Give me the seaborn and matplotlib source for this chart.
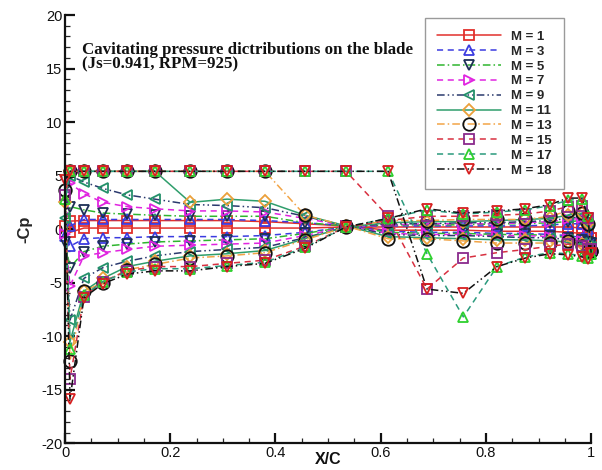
import numpy as np
import pandas as pd
import matplotlib
matplotlib.use("Agg")
import matplotlib.pyplot as plt
from matplotlib.ticker import MultipleLocator
import seaborn as sns

# chordwise stations shared by both blade sides (x/c)
x_side = [0.0095, 0.036, 0.072, 0.118, 0.171, 0.238, 0.308, 0.380, 0.456, 0.534,
          0.614, 0.688, 0.757, 0.821, 0.875, 0.922, 0.956, 0.983, 0.994]
x_le = 0.0
x_te = 1.0

series = ["M = 1", "M = 3", "M = 5", "M = 7", "M = 9",
          "M = 11", "M = 13", "M = 15", "M = 17", "M = 18"]

# -Cp at the leading and trailing edge points
cp_le = [0.3, -0.6, -1.2, -0.5, 1.0, 2.5, 3.7, 3.2, 2.8, 4.6]
cp_te = [-0.8, -1.0, -1.3, -1.5, -1.7, -1.9, -2.0, -1.9, -2.3, -2.2]

# -Cp along the suction side
cp_upper = {
    "M = 1":  [0.75, 0.8, 0.8, 0.8, 0.8, 0.8, 0.8, 0.7, 0.5, 0.3,
               -0.1, -0.1, -0.1, -0.2, -0.2, -0.2, -0.3, -0.4, -0.6],
    "M = 3":  [0.3, 0.9, 0.9, 0.9, 0.9, 0.9, 0.9, 0.8, 0.6, 0.3,
               -0.2, -0.3, -0.3, -0.4, -0.4, -0.5, -0.6, -0.8, -1.0],
    "M = 5":  [2.1, 1.8, 1.5, 1.4, 1.3, 1.2, 1.2, 1.2, 0.6, 0.3,
               -0.3, -0.4, -0.4, -0.5, -0.5, -0.6, -0.8, -1.0, -1.2],
    "M = 7":  [4.3, 3.3, 2.5, 2.1, 1.9, 1.7, 1.7, 1.6, 1.0, 0.3,
               -0.4, -0.5, -0.5, -0.6, -0.6, -0.7, -0.9, -1.1, -1.4],
    "M = 9":  [5.0, 4.4, 3.8, 3.2, 2.8, 2.3, 2.2, 2.0, 1.2, 0.3,
               -0.5, -0.6, -0.6, -0.7, -0.8, -0.8, -1.0, -1.3, -1.6],
    "M = 11": [5.4, 5.4, 5.4, 5.4, 5.4, 2.5, 2.8, 2.6, 1.3, 0.3,
               -0.7, -0.8, -0.9, -1.0, -1.0, -1.1, -1.2, -1.4, -1.8],
    "M = 13": [5.4, 5.4, 5.4, 5.4, 5.4, 5.4, 5.4, 5.4, 1.3, 0.3,
               -0.9, -0.9, -1.1, -1.3, -1.3, -1.3, -1.1, -1.6, -2.0],
    "M = 15": [5.4, 5.4, 5.4, 5.4, 5.4, 5.4, 5.4, 5.4, 5.4, 5.4,
               1.2, -5.6, -2.7, -2.2, -1.9, -1.6, -1.4, -1.6, -1.9],
    "M = 17": [5.4, 5.4, 5.4, 5.4, 5.4, 5.4, 5.4, 5.4, 5.4, 5.4,
               5.4, -2.3, -8.2, -3.5, -2.6, -2.2, -2.3, -2.5, -2.7],
    "M = 18": [5.4, 5.4, 5.4, 5.4, 5.4, 5.4, 5.4, 5.4, 5.4, 5.4,
               5.4, -5.6, -6.0, -3.5, -2.7, -2.3, -2.4, -2.6, -2.8],
}

# -Cp along the pressure side
cp_lower = {
    "M = 1":  [-0.3, 0.1, 0.1, 0.1, 0.1, 0.1, 0.1, 0.1, 0.1, 0.2,
               0.2, 0.2, 0.2, 0.2, 0.2, 0.2, 0.2, 0.1, -0.2],
    "M = 3":  [-1.6, -0.9, -0.8, -0.8, -0.7, -0.7, -0.7, -0.6, -0.3, 0.2,
               0.3, 0.3, 0.3, 0.3, 0.3, 0.4, 0.5, 0.5, 0.0],
    "M = 5":  [-3.6, -2.1, -1.6, -1.4, -1.2, -1.1, -1.0, -0.9, -0.4, 0.2,
               0.4, 0.4, 0.4, 0.5, 0.5, 0.6, 0.7, 0.8, 0.2],
    "M = 7":  [-5.3, -2.5, -2.2, -1.9, -1.6, -1.5, -1.4, -1.3, -0.6, 0.2,
               0.4, 0.5, 0.5, 0.5, 0.6, 0.7, 0.9, 1.0, 0.3],
    "M = 9":  [-8.5, -4.6, -3.6, -3.0, -2.5, -2.1, -1.9, -1.7, -0.8, 0.2,
               0.5, 0.5, 0.6, 0.6, 0.7, 0.8, 1.0, 1.2, 0.4],
    "M = 11": [-10.5, -5.8, -4.6, -3.5, -3.0, -2.5, -2.3, -2.0, -0.9, 0.2,
               0.6, 0.7, 0.7, 0.8, 0.9, 1.0, 1.3, 1.5, 0.6],
    "M = 13": [-12.3, -5.8, -5.0, -3.8, -3.3, -2.7, -2.5, -2.2, -1.0, 0.2,
               0.8, 0.8, 0.9, 0.9, 0.9, 1.2, 1.7, 1.5, 0.5],
    "M = 15": [-14.0, -6.3, -4.9, -3.9, -3.5, -3.5, -3.2, -2.9, -1.6, 0.2,
               0.8, 1.2, 1.2, 1.3, 1.4, 1.7, 2.1, 2.2, 1.0],
    "M = 17": [-11.2, -6.2, -4.9, -4.0, -3.7, -3.7, -3.4, -3.1, -1.7, 0.2,
               1.0, 1.8, 1.4, 1.6, 1.8, 2.2, 2.7, 2.8, 1.2],
    "M = 18": [-15.9, -6.4, -5.1, -4.2, -3.9, -3.9, -3.5, -3.2, -1.8, 0.2,
               1.0, 1.9, 1.5, 1.7, 1.9, 2.3, 2.9, 2.9, 1.0],
}

# line colour, marker colour, marker, marker size, dash pattern
styles = {
    "M = 1":  ("#e2302c", "#e2302c", "s", 7, "-"),
    "M = 3":  ("#3b3be0", "#3b3be0", "^", 7, (0, (4, 3))),
    "M = 5":  ("#2fb52f", "#1c2f55", "v", 7, (0, (5, 2, 1, 2))),
    "M = 7":  ("#e024e0", "#e024e0", ">", 7, (0, (4, 3))),
    "M = 9":  ("#2b3a6e", "#23906a", "<", 7, (0, (5, 2, 1, 2, 1, 2))),
    "M = 11": ("#2f9e6c", "#eba03a", "D", 6, "-"),
    "M = 13": ("#f2a446", "#111111", "o", 9, (0, (5, 2, 1, 2))),
    "M = 15": ("#d83040", "#8a2a8c", "s", 7, (0, (4, 3))),
    "M = 17": ("#2a9a7c", "#2ed02e", "^", 7, (0, (4, 3))),
    "M = 18": ("#111111", "#d62020", "v", 7, (0, (5, 2, 1, 2, 1, 2))),
}

# each curve runs around the blade section: TE -> pressure side -> LE -> suction side -> TE
rows = []
for i, name in enumerate(series):
    xs = [x_te] + x_side[::-1] + [x_le] + x_side + [x_te]
    ys = [cp_te[i]] + cp_lower[name][::-1] + [cp_le[i]] + cp_upper[name] + [cp_te[i]]
    for k, (xv, yv) in enumerate(zip(xs, ys)):
        rows.append({"series": name, "order": k, "x": xv, "cp": yv})
df = pd.DataFrame(rows)

sns.set_theme(style="white")
plt.rcParams["font.family"] = ["Liberation Sans", "DejaVu Sans"]

fig = plt.figure(figsize=(6.02, 4.70), dpi=100)
ax = fig.add_axes([0.108, 0.057, 0.874, 0.911])

handles = []
for name in series:
    lc, mc, mk, ms, ls = styles[name]
    sub = df[df["series"] == name].sort_values("order")
    sns.lineplot(data=sub, x="x", y="cp", sort=False, estimator=None, ax=ax,
                 color=lc, linestyle=ls, linewidth=1.1,
                 marker=mk, markersize=ms, markerfacecolor="none",
                 markeredgecolor=mc, markeredgewidth=1.3, legend=False)
    line = ax.lines[-1]
    line.set_label(name)
    line.set_clip_on(False)
    handles.append(line)

ax.set_xlim(0, 1)
ax.set_ylim(-20, 20)
ax.xaxis.set_minor_locator(MultipleLocator(0.05))
ax.yaxis.set_minor_locator(MultipleLocator(1))
ax.set_xticks([0, 0.2, 0.4, 0.6, 0.8, 1.0])
ax.set_xticklabels(["0", "0.2", "0.4", "0.6", "0.8", "1"])
ax.set_yticks([-20, -15, -10, -5, 0, 5, 10, 15, 20])
ax.set_yticklabels(["-20", "-15", "-10", "-5", "0", "5", "10", "15", "20"])

for side in ("top", "right"):
    ax.spines[side].set_visible(False)
for side in ("left", "bottom"):
    ax.spines[side].set_linewidth(1.6)
    ax.spines[side].set_color("#111111")

ax.tick_params(which="major", direction="in", length=7, width=1.6,
               labelsize=10.5, colors="#111111", pad=2,
               bottom=True, left=True, top=False, right=False)
ax.tick_params(which="minor", direction="in", length=3.5, width=0.9,
               bottom=True, left=True, top=False, right=False)
ax.grid(False)

ax.set_xlabel("")
fig.text(0.5 * (0.108 + 0.982), 1 - 460 / 470, "X/C", fontsize=11.5, fontweight="bold",
         ha="center", va="center", color="#111111")
ax.set_ylabel("-Cp", fontsize=12, fontweight="bold", labelpad=6)

ax.text(0.032, 17.5, "Cavitating pressure dictributions on the blade\n(Js=0.941, RPM=925)",
        family=["Liberation Serif", "DejaVu Serif"], fontweight="bold", fontsize=12.2,
        va="top", ha="left", linespacing=0.88, color="#111111")

leg = ax.legend(handles=handles, loc="upper left", bbox_to_anchor=(0.684, 0.993),
                borderaxespad=0, numpoints=1, handlelength=4.8, handletextpad=0.75,
                labelspacing=0.2, borderpad=0.95,
                prop={"weight": "bold", "size": 9.5}, frameon=True, fancybox=False)
leg.get_frame().set_edgecolor("#9a9a9a")
leg.get_frame().set_linewidth(1.0)
leg.get_frame().set_facecolor("white")
leg.get_frame().set_alpha(1.0)

fig.savefig("out.png", dpi=100)
